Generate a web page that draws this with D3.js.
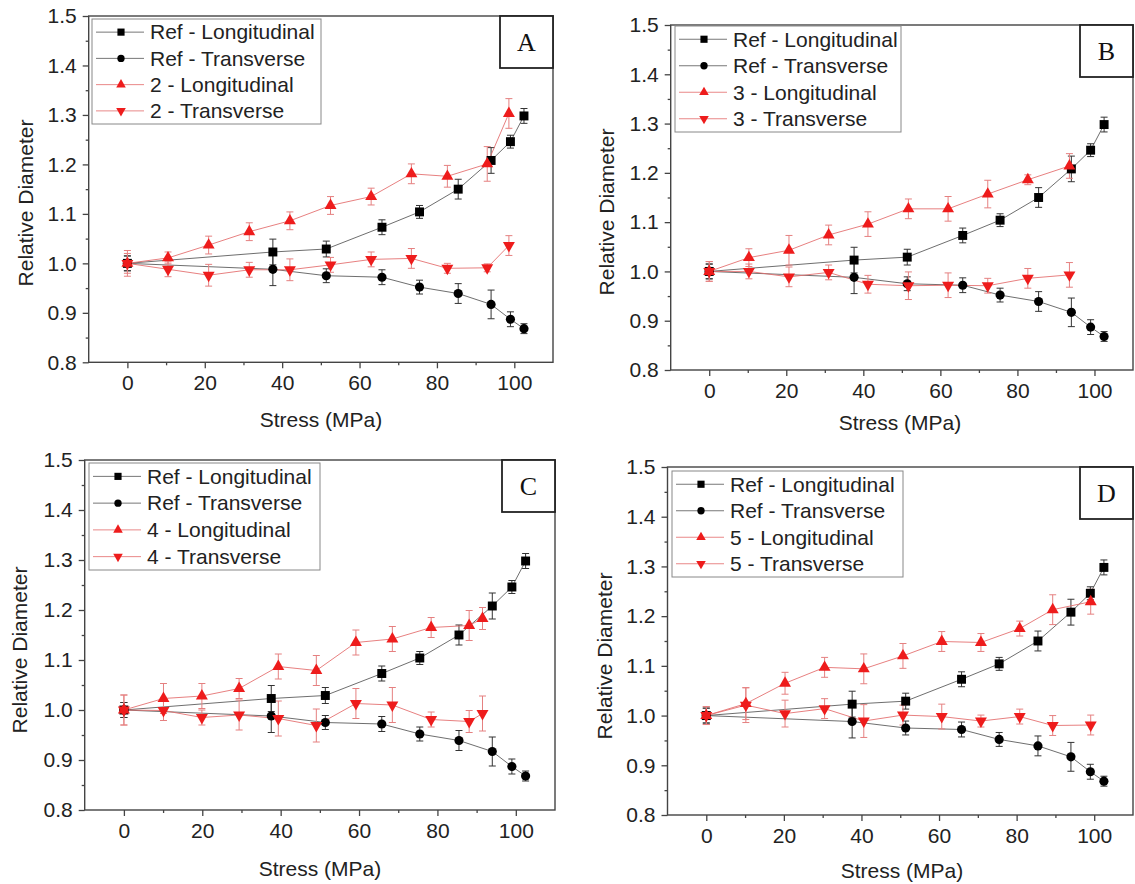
<!DOCTYPE html>
<html>
<head>
<meta charset="utf-8">
<script src="https://cdn.jsdelivr.net/npm/d3@7"></script>
<style>
  body { margin: 0; background: #fff; }
  text { font-family: "Liberation Sans", Arial, sans-serif; }
</style>
</head>
<body>
<svg id="chart" width="1135" height="884"></svg>
<script>
// reference sample, same in all four panels
const refX = [0, 37.6, 51.4, 65.8, 75.5, 85.5, 94, 99, 102.5];
const refLong = [1.0, 1.023, 1.029, 1.073, 1.104, 1.150, 1.208, 1.246, 1.298];
const refLongErr = [0.015, 0.026, 0.016, 0.015, 0.013, 0.02, 0.026, 0.013, 0.015];
const refTrans = [1.0, 0.988, 0.975, 0.972, 0.952, 0.939, 0.917, 0.887, 0.868];
const refTransErr = [0.015, 0.033, 0.014, 0.015, 0.014, 0.02, 0.029, 0.015, 0.01];

// sample 2 (A)
const s2X = [0, 10.5, 21, 31.5, 42, 52.5, 63, 73.4, 82.7, 93, 98.6];
const s2Long = [1.0, 1.011, 1.037, 1.064, 1.086, 1.117, 1.135, 1.181, 1.176, 1.201, 1.303];
const s2LongErr = [0.02, 0.012, 0.018, 0.018, 0.018, 0.018, 0.017, 0.02, 0.022, 0.035, 0.03];
const s2Trans = [1.0, 0.988, 0.976, 0.987, 0.987, 0.997, 1.008, 1.010, 0.990, 0.991, 1.036];
const s2TransErr = [0.026, 0.015, 0.022, 0.015, 0.022, 0.015, 0.015, 0.02, 0.01, 0.008, 0.02];

// sample 3 (B)
const s3X = [0, 10.3, 20.7, 31, 41.2, 51.7, 62, 72.3, 82.7, 93.5];
const s3Long = [1.0, 1.028, 1.043, 1.074, 1.096, 1.127, 1.127, 1.157, 1.186, 1.214];
const s3LongErr = [0.02, 0.018, 0.03, 0.02, 0.025, 0.02, 0.025, 0.028, 0.01, 0.025];
const s3Trans = [1.0, 1.0, 0.989, 0.998, 0.974, 0.971, 0.972, 0.971, 0.986, 0.993];
const s3TransErr = [0.02, 0.015, 0.02, 0.015, 0.018, 0.028, 0.025, 0.015, 0.02, 0.025];

// sample 4 (C)
const s4X = [0, 10.1, 19.9, 29.4, 39.4, 49.1, 59.2, 68.5, 78.4, 88.1, 91.5];
const s4Long = [1.0, 1.023, 1.028, 1.043, 1.087, 1.079, 1.135, 1.142, 1.165, 1.169, 1.183];
const s4LongErr = [0.03, 0.03, 0.025, 0.02, 0.025, 0.03, 0.025, 0.025, 0.02, 0.03, 0.022];
const s4Trans = [1.0, 0.999, 0.985, 0.99, 0.983, 0.969, 1.013, 1.01, 0.981, 0.977, 0.993];
const s4TransErr = [0.03, 0.02, 0.015, 0.03, 0.035, 0.033, 0.03, 0.035, 0.015, 0.022, 0.035];

// sample 5 (D)
const s5X = [0, 10.2, 20.3, 30.5, 40.6, 50.7, 60.7, 70.8, 80.8, 89.3, 99.1];
const s5Long = [1.0, 1.024, 1.065, 1.097, 1.094, 1.120, 1.149, 1.147, 1.175, 1.213, 1.229];
const s5LongErr = [0.018, 0.032, 0.022, 0.02, 0.03, 0.025, 0.02, 0.018, 0.015, 0.03, 0.025];
const s5Trans = [1.0, 1.021, 1.004, 1.014, 0.989, 1.001, 0.998, 0.989, 0.998, 0.980, 0.981];
const s5TransErr = [0.018, 0.035, 0.027, 0.02, 0.033, 0.02, 0.025, 0.012, 0.015, 0.02, 0.02];

const xMajor = [0, 20, 40, 60, 80, 100];
const xMinor = [10, 30, 50, 70, 90];
const yMajor = [0.8, 0.9, 1.0, 1.1, 1.2, 1.3, 1.4, 1.5];
const yMinor = [0.85, 0.95, 1.05, 1.15, 1.25, 1.35, 1.45];

const panels = [
  {tag: 'A', name: '2', x: s2X, long: s2Long, longErr: s2LongErr, trans: s2Trans, transErr: s2TransErr,
   l: 88.7, r: 553, t: 16, b: 362.3, leg: [92, 19, 229, 105], yt: [26, 203], xt: [321, 420]},
  {tag: 'B', name: '3', x: s3X, long: s3Long, longErr: s3LongErr, trans: s3Trans, transErr: s3TransErr,
   l: 670.7, r: 1133, t: 25, b: 370, leg: [675, 26, 226, 106], yt: [607, 212], xt: [900, 423]},
  {tag: 'C', name: '4', x: s4X, long: s4Long, longErr: s4LongErr, trans: s4Trans, transErr: s4TransErr,
   l: 84.7, r: 555, t: 460, b: 810, leg: [89, 463, 231, 107], yt: [20, 650], xt: [320, 869]},
  {tag: 'D', name: '5', x: s5X, long: s5Long, longErr: s5LongErr, trans: s5Trans, transErr: s5TransErr,
   l: 667.5, r: 1133, t: 467, b: 815, leg: [672, 471, 231, 106], yt: [605, 656], xt: [902, 871]}
];

const svg = d3.select('#chart');
const RED = '#ee1c1c';
const RED_LINE = '#e36a6a';
const GRAY_LINE = '#555';

const symSquare = d3.symbol(d3.symbolSquare, 80)();
const symCircle = d3.symbol(d3.symbolCircle, 66)();
const symTri = d3.symbol(d3.symbolTriangle, 62)();

function drawPanel(p) {
  const x = d3.scaleLinear().domain([-10, 110]).range([p.l, p.r]);
  const y = d3.scaleLinear().domain([0.8, 1.5]).range([p.b, p.t]);
  const g = svg.append('g');

  // axes
  const xa = g.append('g').attr('transform', `translate(0,${p.b})`)
    .call(d3.axisBottom(x).tickValues(xMajor).tickSize(6).tickSizeOuter(0).tickPadding(7).tickFormat(d3.format('d')));
  g.append('g').attr('transform', `translate(0,${p.b})`)
    .call(d3.axisBottom(x).tickValues(xMinor).tickSize(3).tickSizeOuter(0).tickFormat(''));
  const ya = g.append('g').attr('transform', `translate(${p.l},0)`)
    .call(d3.axisLeft(y).tickValues(yMajor).tickSize(6).tickSizeOuter(0).tickPadding(6).tickFormat(d3.format('.1f')));
  g.append('g').attr('transform', `translate(${p.l},0)`)
    .call(d3.axisLeft(y).tickValues(yMinor).tickSize(3).tickSizeOuter(0).tickFormat(''));
  g.selectAll('.domain').remove();
  g.selectAll('.tick line').attr('stroke', '#444').attr('stroke-width', 1.3);
  g.selectAll('.tick text').attr('font-size', 21).attr('fill', '#222')
    .style('font-family', '"Liberation Sans", Arial, sans-serif');

  g.append('rect')
    .attr('x', p.l).attr('y', p.t)
    .attr('width', p.r - p.l).attr('height', p.b - p.t)
    .attr('fill', 'none').attr('stroke', '#444').attr('stroke-width', 1.4);

  // axis titles
  g.append('text')
    .attr('transform', `translate(${p.yt[0]},${p.yt[1]}) rotate(-90)`)
    .attr('text-anchor', 'middle').attr('dy', '0.35em')
    .attr('font-size', 21).attr('fill', '#222')
    .text('Relative Diameter');
  g.append('text')
    .attr('x', p.xt[0]).attr('y', p.xt[1]).attr('dy', '0.35em')
    .attr('text-anchor', 'middle')
    .attr('font-size', 21).attr('fill', '#222')
    .text('Stress (MPa)');

  const series = [
    {xs: refX, ys: refLong, es: refLongErr, sym: symSquare, rot: 0, fill: '#000', line: GRAY_LINE, err: '#333'},
    {xs: refX, ys: refTrans, es: refTransErr, sym: symCircle, rot: 0, fill: '#000', line: GRAY_LINE, err: '#333'},
    {xs: p.x, ys: p.long, es: p.longErr, sym: symTri, rot: 0, fill: RED, line: RED_LINE, err: '#e58080'},
    {xs: p.x, ys: p.trans, es: p.transErr, sym: symTri, rot: 180, fill: RED, line: RED_LINE, err: '#e58080'}
  ];

  const line = d3.line().x(d => x(d[0])).y(d => y(d[1]));

  series.forEach(s => {
    const pts = s.xs.map((v, i) => [v, s.ys[i], s.es[i]]);
    g.append('path').datum(pts)
      .attr('d', line)
      .attr('fill', 'none')
      .attr('stroke', s.line)
      .attr('stroke-width', 1)
      .attr('stroke-opacity', 0.85);

    const eb = g.append('g');
    eb.selectAll('line.bar').data(pts).enter().append('line')
      .attr('x1', d => x(d[0])).attr('x2', d => x(d[0]))
      .attr('y1', d => y(d[1] - d[2])).attr('y2', d => y(d[1] + d[2]))
      .attr('stroke', s.err).attr('stroke-width', 1);
    [-1, 1].forEach(sign => {
      eb.selectAll('line.cap' + sign).data(pts).enter().append('line')
        .attr('x1', d => x(d[0]) - 3.5).attr('x2', d => x(d[0]) + 3.5)
        .attr('y1', d => y(d[1] + sign * d[2])).attr('y2', d => y(d[1] + sign * d[2]))
        .attr('stroke', s.err).attr('stroke-width', 1);
    });
  });

  series.forEach(s => {
    g.selectAll(null).data(s.xs.map((v, i) => [v, s.ys[i]])).enter().append('path')
      .attr('d', s.sym)
      .attr('transform', d => `translate(${x(d[0])},${y(d[1])}) rotate(${s.rot})`)
      .attr('fill', s.fill);
  });

  // legend
  const [lx, ly, lw, lh] = p.leg;
  const lg = g.append('g');
  lg.append('rect').attr('x', lx).attr('y', ly).attr('width', lw).attr('height', lh)
    .attr('fill', '#fff').attr('stroke', '#888').attr('stroke-width', 1);
  const labels = ['Ref - Longitudinal', 'Ref - Transverse', p.name + ' - Longitudinal', p.name + ' - Transverse'];
  const rowH = lh / 4;
  series.forEach((s, i) => {
    const cy = ly + rowH * (i + 0.5);
    lg.append('line').attr('x1', lx + 4).attr('x2', lx + 52).attr('y1', cy).attr('y2', cy)
      .attr('stroke', s.line).attr('stroke-width', 1).attr('stroke-opacity', 0.8);
    lg.append('path').attr('d', s.sym)
      .attr('transform', `translate(${lx + 29},${cy}) rotate(${s.rot}) scale(0.8)`)
      .attr('fill', s.fill);
    lg.append('text').attr('x', lx + 58).attr('y', cy).attr('dy', '0.35em')
      .attr('font-size', 21).attr('fill', '#222').text(labels[i]);
  });

  // panel letter box
  g.append('rect').attr('x', p.r - 53).attr('y', p.t).attr('width', 53).attr('height', 52)
    .attr('fill', '#fff').attr('stroke', '#222').attr('stroke-width', 1.8);
  g.append('text').attr('x', p.r - 26.5).attr('y', p.t + 26).attr('dy', '0.35em')
    .attr('text-anchor', 'middle').attr('font-size', 26)
    .style('font-family', '"Liberation Serif", "Times New Roman", serif')
    .attr('fill', '#111').text(p.tag);
}

panels.forEach(drawPanel);
</script>
</body>
</html>
